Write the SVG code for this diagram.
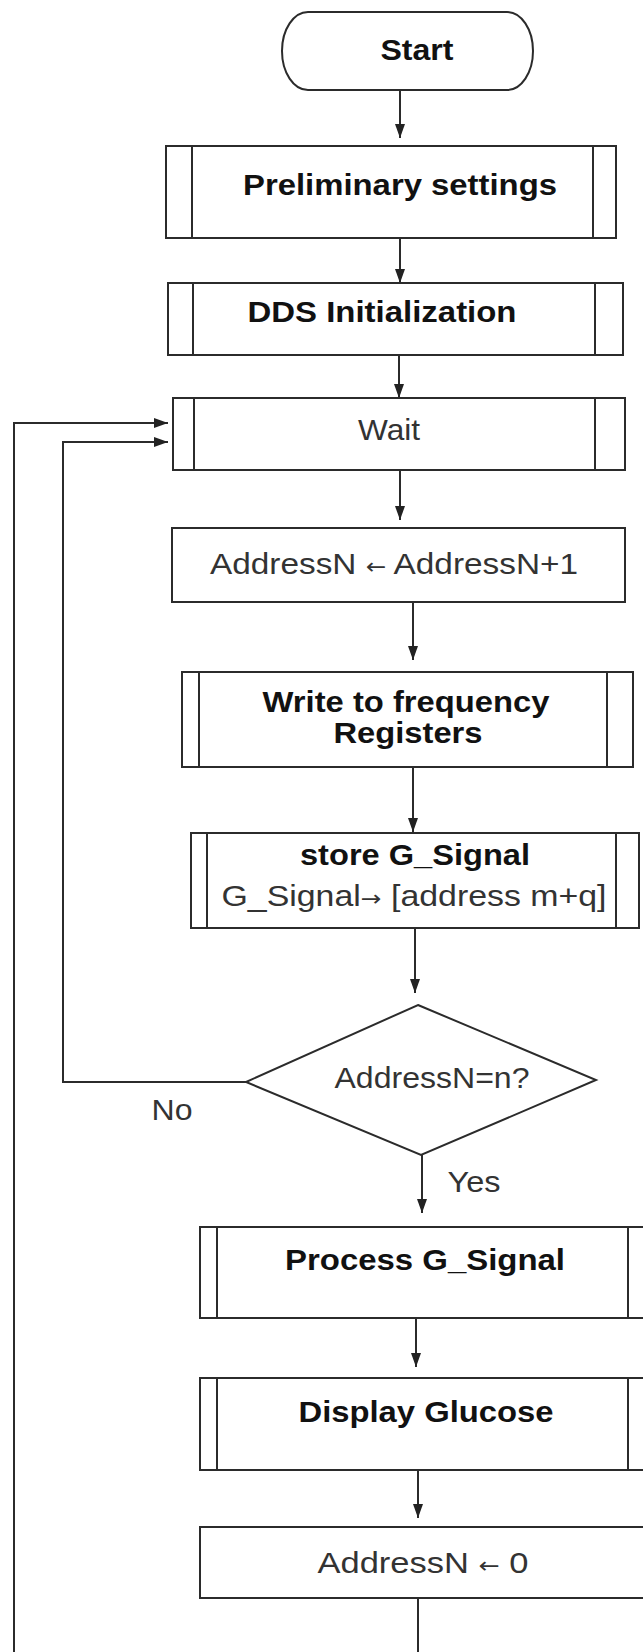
<svg xmlns="http://www.w3.org/2000/svg" width="643" height="1652" viewBox="0 0 643 1652">
  <style>
    .box { fill: #ffffff; stroke: #2b2b2b; stroke-width: 2; }
    .sub { fill: none; stroke: #2b2b2b; stroke-width: 2; }
    .conn { fill: none; stroke: #2b2b2b; stroke-width: 2; }
    .b { font-family: "Liberation Sans", Arial, sans-serif; font-weight: bold; font-size: 30px; fill: #111111; text-anchor: middle; }
    .r { font-family: "Liberation Sans", Arial, sans-serif; font-size: 30px; fill: #333333; text-anchor: middle; }
    .ar { font-family: "DejaVu Sans", sans-serif; font-size: 22px; }
  </style>
  <defs>
    <marker id="arrow" markerUnits="userSpaceOnUse" markerWidth="14" markerHeight="10" refX="14" refY="5" orient="auto">
      <path d="M0,0 L14,5 L0,10 z" fill="#222222"/>
    </marker>
  </defs>
  <rect width="643" height="1652" fill="#ffffff"/>

  <g id="connectors">
    <line class="conn" x1="400" y1="90" x2="400" y2="138" marker-end="url(#arrow)"/>
    <line class="conn" x1="400" y1="238" x2="400" y2="283" marker-end="url(#arrow)"/>
    <line class="conn" x1="399" y1="355" x2="399" y2="398" marker-end="url(#arrow)"/>
    <line class="conn" x1="400" y1="470" x2="400" y2="520" marker-end="url(#arrow)"/>
    <line class="conn" x1="413" y1="602" x2="413" y2="660" marker-end="url(#arrow)"/>
    <line class="conn" x1="413" y1="767" x2="413" y2="832" marker-end="url(#arrow)"/>
    <line class="conn" x1="415" y1="928" x2="415" y2="993" marker-end="url(#arrow)"/>
    <line class="conn" x1="422" y1="1155" x2="422" y2="1213" marker-end="url(#arrow)"/>
    <line class="conn" x1="416" y1="1318" x2="416" y2="1367" marker-end="url(#arrow)"/>
    <line class="conn" x1="418" y1="1470" x2="418" y2="1518" marker-end="url(#arrow)"/>
    <line class="conn" x1="418" y1="1598" x2="418" y2="1660"/>
    <polyline class="conn" points="14,1660 14,423 168,423" marker-end="url(#arrow)"/>
    <polyline class="conn" points="246,1082 63,1082 63,442 168,442" marker-end="url(#arrow)"/>
    <text class="r" x="172" y="1120" textLength="41" lengthAdjust="spacingAndGlyphs">No</text>
    <text class="r" x="474" y="1192" textLength="53" lengthAdjust="spacingAndGlyphs">Yes</text>
  </g>

  <g id="start">
    <rect class="box" x="282" y="12" width="251" height="78" rx="26" ry="39"/>
    <text class="b" x="417" y="60" textLength="73" lengthAdjust="spacingAndGlyphs">Start</text>
  </g>

  <g id="preliminary">
    <rect class="box" x="166" y="146" width="450" height="92"/>
    <line class="sub" x1="192" y1="146" x2="192" y2="238"/>
    <line class="sub" x1="593" y1="146" x2="593" y2="238"/>
    <text class="b" x="400" y="195" textLength="314" lengthAdjust="spacingAndGlyphs">Preliminary settings</text>
  </g>

  <g id="dds">
    <rect class="box" x="168" y="283" width="455" height="72"/>
    <line class="sub" x1="193" y1="283" x2="193" y2="355"/>
    <line class="sub" x1="595" y1="283" x2="595" y2="355"/>
    <text class="b" x="382" y="322" textLength="269" lengthAdjust="spacingAndGlyphs">DDS Initialization</text>
  </g>

  <g id="wait">
    <rect class="box" x="173" y="398" width="452" height="72"/>
    <line class="sub" x1="194" y1="398" x2="194" y2="470"/>
    <line class="sub" x1="595" y1="398" x2="595" y2="470"/>
    <text class="r" x="389" y="440" textLength="62" lengthAdjust="spacingAndGlyphs">Wait</text>
  </g>

  <g id="increment">
    <rect class="box" x="172" y="528" width="453" height="74"/>
    <text class="r" x="394" y="574" textLength="368" lengthAdjust="spacingAndGlyphs">AddressN <tspan class="ar">←</tspan> AddressN+1</text>
  </g>

  <g id="write">
    <rect class="box" x="182" y="672" width="451" height="95"/>
    <line class="sub" x1="199" y1="672" x2="199" y2="767"/>
    <line class="sub" x1="607" y1="672" x2="607" y2="767"/>
    <text class="b" x="406" y="712" textLength="287" lengthAdjust="spacingAndGlyphs">Write to frequency</text>
    <text class="b" x="408" y="743" textLength="149" lengthAdjust="spacingAndGlyphs">Registers</text>
  </g>

  <g id="store">
    <rect class="box" x="191" y="833" width="448" height="95"/>
    <line class="sub" x1="207" y1="833" x2="207" y2="928"/>
    <line class="sub" x1="616" y1="833" x2="616" y2="928"/>
    <text class="b" x="415" y="865" textLength="230" lengthAdjust="spacingAndGlyphs">store G_Signal</text>
    <text class="r" x="414" y="906" textLength="385" lengthAdjust="spacingAndGlyphs">G_Signal<tspan class="ar">→</tspan> [address m+q]</text>
  </g>

  <g id="decision">
    <polygon class="box" points="418,1005 596,1080 421,1155 246,1082"/>
    <text class="r" x="432" y="1088" textLength="195" lengthAdjust="spacingAndGlyphs">AddressN=n?</text>
  </g>

  <g id="process">
    <rect class="box" x="200" y="1227" width="450" height="91"/>
    <line class="sub" x1="217" y1="1227" x2="217" y2="1318"/>
    <line class="sub" x1="628" y1="1227" x2="628" y2="1318"/>
    <text class="b" x="425" y="1270" textLength="280" lengthAdjust="spacingAndGlyphs">Process G_Signal</text>
  </g>

  <g id="display">
    <rect class="box" x="200" y="1378" width="450" height="92"/>
    <line class="sub" x1="217" y1="1378" x2="217" y2="1470"/>
    <line class="sub" x1="628" y1="1378" x2="628" y2="1470"/>
    <text class="b" x="426" y="1422" textLength="255" lengthAdjust="spacingAndGlyphs">Display Glucose</text>
  </g>

  <g id="reset">
    <rect class="box" x="200" y="1527" width="450" height="71"/>
    <text class="r" x="423" y="1573" textLength="211" lengthAdjust="spacingAndGlyphs">AddressN <tspan class="ar">←</tspan> 0</text>
  </g>
</svg>
